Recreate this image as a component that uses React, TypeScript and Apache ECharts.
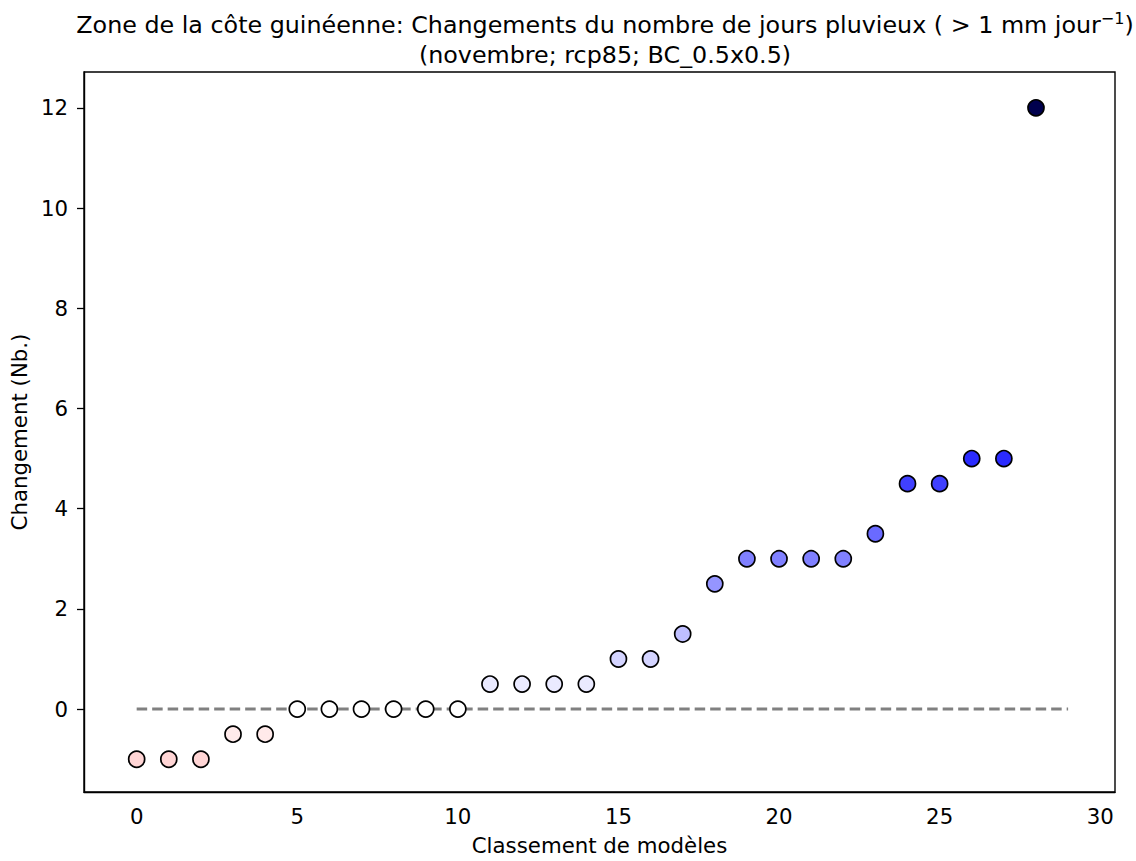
import React, { useEffect, useRef } from "react";
import * as echarts from "echarts";

const ranks = [0, 1, 2, 3, 4, 5, 6, 7, 8, 9, 10, 11, 12, 13, 14, 15, 16, 17, 18, 19, 20, 21, 22, 23, 24, 25, 26, 27, 28];
const changes = [-1, -1, -1, -0.5, -0.5, 0, 0, 0, 0, 0, 0, 0.5, 0.5, 0.5, 0.5, 1, 1, 1.5, 2.5, 3, 3, 3, 3, 3.5, 4.5, 4.5, 5, 5, 12];
const xTicks = [0, 5, 10, 15, 20, 25, 30];
const yTicks = [0, 2, 4, 6, 8, 10, 12];
const zeroLine = [[0, 0], [29, 0]];

const titleLine1 = "Zone de la côte guinéenne: Changements du nombre de jours pluvieux ( > 1 mm jour";
const titleSup = "−1";
const titleLine2 = "(novembre; rcp85; BC_0.5x0.5)";
const xName = "Classement de modèles";
const yName = "Changement (Nb.)";

// matplotlib "seismic_r" with norm -12..12
function seismicR(v: number): string {
  const vmax = 12;
  const s = Math.min(1, Math.max(0, (vmax - v) / (2 * vmax)));
  const stops: [number, number, number, number][] = [
    [0, 0, 0, 0.3],
    [0.25, 0, 0, 1],
    [0.5, 1, 1, 1],
    [0.75, 1, 0, 0],
    [1, 0.5, 0, 0],
  ];
  for (let i = 0; i < stops.length - 1; i++) {
    const a = stops[i], b = stops[i + 1];
    if (s >= a[0] && s <= b[0]) {
      const f = (s - a[0]) / (b[0] - a[0]);
      const r = Math.round((a[1] + (b[1] - a[1]) * f) * 255);
      const g = Math.round((a[2] + (b[2] - a[2]) * f) * 255);
      const bl = Math.round((a[3] + (b[3] - a[3]) * f) * 255);
      return `rgb(${r},${g},${bl})`;
    }
  }
  return "#fff";
}

const FONT = "DejaVu Sans";
const FS = 21.3;

export default function App() {
  const ref = useRef<HTMLDivElement>(null);
  useEffect(() => {
    if (!ref.current) return;
    const chart = echarts.init(ref.current, null, { renderer: "svg" });
    chart.setOption({
      animation: false,
      backgroundColor: "#fff",
      title: {
        text: `{a|${titleLine1}}{s|${titleSup}}{a|)}\n{a|${titleLine2}}`,
        left: 600,
        top: 5,
        textAlign: "center",
        textStyle: {
          fontWeight: "normal",
          rich: {
            a: { fontFamily: FONT, fontSize: 23.8, fontWeight: "normal", color: "#000", lineHeight: 30 },
            s: { fontFamily: FONT, fontSize: 16, fontWeight: "normal", color: "#000", verticalAlign: "top", lineHeight: 30, padding: [0, 0, 10, 0] },
          },
        },
      },
      grid: {
        left: 84,
        top: 72,
        right: 21,
        bottom: 65,
        show: true,
        borderColor: "#000",
        borderWidth: 1.4,
        backgroundColor: "#fff",
      },
      xAxis: {
        type: "value",
        min: -1.64,
        max: 30.46,
        name: xName,
        nameLocation: "middle",
        nameGap: 43,
        nameTextStyle: { fontFamily: FONT, fontSize: FS, color: "#000" },
        axisLine: { show: true, onZero: false, lineStyle: { color: "#000", width: 1.4 } },
        axisTick: { show: false },
        splitLine: { show: false },
        axisLabel: {
          customValues: xTicks,
          fontFamily: FONT,
          fontSize: FS,
          color: "#000",
          margin: 14,
        },
      },
      yAxis: {
        type: "value",
        min: -1.654,
        max: 12.715,
        name: yName,
        nameLocation: "middle",
        nameGap: 53,
        nameTextStyle: { fontFamily: FONT, fontSize: FS, color: "#000" },
        axisLine: { show: true, onZero: false, lineStyle: { color: "#000", width: 1.4 } },
        axisTick: { show: true, customValues: yTicks, length: 7, lineStyle: { color: "#000", width: 1.3 } },
        splitLine: { show: false },
        axisLabel: {
          customValues: yTicks,
          fontFamily: FONT,
          fontSize: FS,
          color: "#000",
          margin: 16,
        },
      },
      series: [
        {
          type: "line",
          data: zeroLine,
          symbol: "none",
          lineStyle: { color: "#808080", width: 3, type: [10.5, 5] },
          z: 1,
        },
        {
          type: "scatter",
          data: ranks.map((r, i) => [r, changes[i]]),
          symbol: "circle",
          symbolSize: 16,
          itemStyle: {
            color: (p: any) => seismicR(p.value[1]),
            borderColor: "#000",
            borderWidth: 1.7,
            opacity: 1,
          },
          z: 3,
        },
      ],
    });
    return () => chart.dispose();
  }, []);
  return (
    <div
      ref={ref}
      style={{ position: "fixed", left: 0, top: 0, width: 1136, height: 861 }}
    />
  );
}
